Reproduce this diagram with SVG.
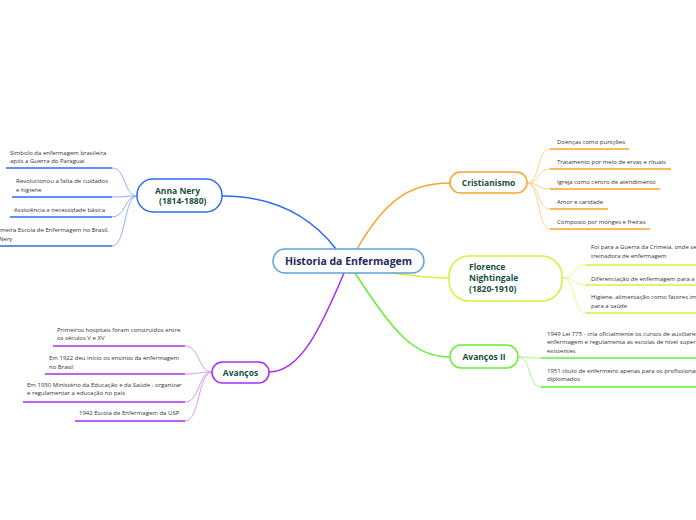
<svg xmlns="http://www.w3.org/2000/svg" width="696" height="520" viewBox="0 0 696 520">
<style>
.node{fill:#fff;stroke-width:1.5}
.nt{font-family:"Open Sans","Noto Sans",sans-serif;font-weight:bold;font-size:8.5px;fill:#174f3c}
.ct{font-family:"Open Sans","Noto Sans",sans-serif;font-weight:bold;font-size:10.5px;fill:#1c2a5a}
.lt{font-family:"Open Sans","Noto Sans",sans-serif;font-size:6px;fill:#333}
.c{fill:none;stroke-width:1.5}
.b{fill:none;stroke-width:1}
.u{fill:none;stroke-width:1.6}
</style>
<rect width="696" height="520" fill="#fff"/>
<g id="connectors">
  <path class="c" stroke="#2d6bf5" d="M336,249 C315,222 280,196 222,196"/>
  <path class="c" stroke="#f9a42b" d="M357,249 C385,200 410,183 450,183"/>
  <path class="c" stroke="#d6f03c" d="M392,273 C420,277 430,278 449,278"/>
  <path class="c" stroke="#66ee33" d="M355,273 C395,335 415,357 450,357"/>
  <path class="c" stroke="#a82cf5" d="M344,273 C320,330 300,372 269,372"/>
  <!-- Anna Nery leaves -->
  <g stroke="#8fb0ff" class="b">
    <path d="M137,196 C124,196 126,168 112,168"/>
    <path d="M137,196 C124,196 126,197 112,197"/>
    <path d="M137,196 C124,196 126,217 112,217"/>
    <path d="M137,196 C124,196 126,246 112,246"/>
  </g>
  <g stroke="#2d6bf5" class="u">
    <path d="M6,168 H112"/>
    <path d="M12,197 H112"/>
    <path d="M10,217 H112"/>
    <path d="M0,246 H112"/>
  </g>
  <!-- Cristianismo leaves -->
  <g stroke="#fdd08f" class="b">
    <path d="M527,183 C540,183 537,149 550,149"/>
    <path d="M527,183 C540,183 537,169 550,169"/>
    <path d="M527,183 C540,183 537,189 550,189"/>
    <path d="M527,183 C540,183 537,209 550,209"/>
    <path d="M527,183 C540,183 537,229 550,229"/>
  </g>
  <g stroke="#f9a42b" class="u">
    <path d="M550,149 H629"/>
    <path d="M550,169 H671"/>
    <path d="M550,189 H660"/>
    <path d="M550,209 H608"/>
    <path d="M550,229 H650"/>
  </g>
  <!-- Florence leaves -->
  <g stroke="#e8f78c" class="b">
    <path d="M562,278 C577,278 572,265 586,265"/>
    <path d="M562,278 C577,278 572,285 586,285"/>
    <path d="M562,278 C577,278 572,313 586,313"/>
  </g>
  <g stroke="#d6f03c" class="u">
    <path d="M586,265 H696"/>
    <path d="M586,285 H696"/>
    <path d="M586,313 H696"/>
  </g>
  <!-- Avancos II leaves -->
  <g stroke="#a9f58c" class="b">
    <path d="M518,357 C530,357 528,358 541,358"/>
    <path d="M518,357 C532,357 527,387 541,387"/>
  </g>
  <g stroke="#66ee33" class="u">
    <path d="M541,358 H696"/>
    <path d="M541,387 H696"/>
  </g>
  <!-- Avancos leaves -->
  <g stroke="#d39bfa" class="b">
    <path d="M212,372 C198,372 200,346 185,346"/>
    <path d="M212,372 C198,372 200,374 185,374"/>
    <path d="M212,372 C198,372 200,402 185,402"/>
    <path d="M212,372 C198,372 200,421 185,421"/>
  </g>
  <g stroke="#a82cf5" class="u">
    <path d="M53,346 H185"/>
    <path d="M45,374 H185"/>
    <path d="M23,402 H185"/>
    <path d="M75,421 H185"/>
  </g>
</g>
<g id="central">
  <rect class="node" x="273" y="249" width="151" height="24" rx="12" stroke="#62a0d8"/>
  <text class="ct" x="348.5" y="265" text-anchor="middle">Historia da Enfermagem</text>
</g>
<g id="anna-nery">
  <rect class="node" x="137" y="179" width="85" height="33" rx="16" stroke="#2d6bf5"/>
  <text class="nt" x="155" y="194">Anna Nery</text>
  <text class="nt" x="159" y="204">(1814-1880)</text>
</g>
<g id="anna-leaves">
  <text class="lt" x="10" y="155">Símbolo da enfermagem brasileira</text>
  <text class="lt" x="10" y="163">após a Guerra do Paraguai</text>
  <text class="lt" x="16" y="183">Revolucionou a falta de cuidados</text>
  <text class="lt" x="16" y="192">e higiene</text>
  <text class="lt" x="14" y="212">Assistência a necessidade básica</text>
  <text class="lt" x="0" y="232">meira Escola de Enfermagem no Brasil,</text>
  <text class="lt" x="-1" y="241">Nery</text>
</g>
<g id="cristianismo">
  <rect class="node" x="450" y="172" width="77" height="21" rx="10.5" stroke="#f9a42b"/>
  <text class="nt" x="488.5" y="185.5" text-anchor="middle">Cristianismo</text>
</g>
<g id="cristianismo-leaves">
  <text class="lt" x="557" y="144">Doenças como punições</text>
  <text class="lt" x="557" y="164">Tratamento por meio de ervas e rituais</text>
  <text class="lt" x="557" y="184">Igreja como centro de atendimento</text>
  <text class="lt" x="557" y="204">Amor e caridade</text>
  <text class="lt" x="557" y="224">Composto por monges e freiras</text>
</g>
<g id="florence">
  <rect class="node" x="449" y="256" width="113" height="45" rx="20" stroke="#d6f03c"/>
  <text class="nt" x="469" y="270">Florence</text>
  <text class="nt" x="469" y="281">Nightingale</text>
  <text class="nt" x="469" y="292">(1820-1910)</text>
</g>
<g id="florence-leaves">
  <text class="lt" x="591" y="249">Foi para a Guerra da Crimeia, onde se</text>
  <text class="lt" x="591" y="258">treinadora de enfermagem</text>
  <text class="lt" x="591" y="281">Diferenciação de enfermagem para a</text>
  <text class="lt" x="591" y="299">Higiene, alimentação como fatores im</text>
  <text class="lt" x="591" y="308">para a saúde</text>
</g>
<g id="avancos-ii">
  <rect class="node" x="450" y="345" width="68" height="23" rx="11.5" stroke="#66ee33"/>
  <text class="nt" x="484" y="360" text-anchor="middle">Avanços II</text>
</g>
<g id="avancos-ii-leaves">
  <text class="lt" x="547" y="336">1949 Lei 775 - cria oficialmente os cursos de auxiliares</text>
  <text class="lt" x="547" y="344">enfermagem e regulamenta as escolas de nível super</text>
  <text class="lt" x="547" y="353">existentes</text>
  <text class="lt" x="547" y="373">1951 título de enfermeiro apenas para os profissionai</text>
  <text class="lt" x="547" y="381">diplomados</text>
</g>
<g id="avancos">
  <rect class="node" x="212" y="362" width="57" height="21" rx="10.5" stroke="#a82cf5"/>
  <text class="nt" x="240.5" y="375.5" text-anchor="middle">Avanços</text>
</g>
<g id="avancos-leaves">
  <text class="lt" x="57" y="332">Primeiros hospitais foram construídos entre</text>
  <text class="lt" x="57" y="340">os séculos V e XV</text>
  <text class="lt" x="49" y="360">Em 1922 deu início os ensinos da enfermagem</text>
  <text class="lt" x="49" y="369">no Brasil</text>
  <text class="lt" x="27" y="387">Em 1930 Ministério da Educação e da Saúde - organizar</text>
  <text class="lt" x="27" y="395">e regulamentar a educação no país</text>
  <text class="lt" x="79" y="415">1942 Escola de Enfermagem da USP</text>
</g>
</svg>
